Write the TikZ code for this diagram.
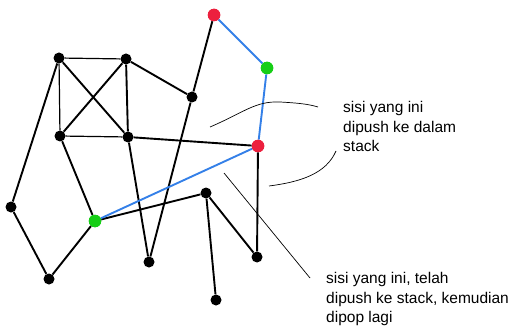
\documentclass[tikz,border=0pt]{standalone}
\usepackage{fontspec}
\setmainfont{Liberation Sans}

\definecolor{vred}{RGB}{236,32,62}
\definecolor{vgreen}{RGB}{22,206,22}
\definecolor{eblue}{RGB}{52,128,232}

\begin{document}
\begin{tikzpicture}[x=1pt,y=-1pt]
		\tikzstyle{every node}+=[inner sep=0pt]
		\tikzstyle{vtx}=[circle,fill=black,minimum size=11pt]
		\tikzstyle{redvtx}=[circle,fill=vred,minimum size=12.5pt]
		\tikzstyle{greenvtx}=[circle,fill=vgreen,minimum size=12.5pt]
		\tikzstyle{edge}=[black,line width=1.9pt]
		\tikzstyle{thinedge}=[black,line width=1.2pt]
		\tikzstyle{stackedge}=[eblue,line width=1.9pt]
		\tikzstyle{note}=[black,line width=0.7pt]
		\tikzstyle{notetext}=[anchor=north west,align=left,font=\fontsize{15.5}{19.5}\selectfont]
		\useasboundingbox (0,0) rectangle (508,331);
		% vertices
		\node[redvtx] (r1) at (214,15) {};
		\node[greenvtx] (g1) at (267,68) {};
		\node[vtx] (a) at (59,58) {};
		\node[vtx] (b) at (126,59) {};
		\node[vtx] (c) at (192,97) {};
		\node[vtx] (d) at (60,136) {};
		\node[vtx] (e) at (128,137) {};
		\node[redvtx] (r2) at (258,146) {};
		\node[vtx] (f) at (11,207) {};
		\node[greenvtx] (g2) at (95,221) {};
		\node[vtx] (h) at (206,193) {};
		\node[vtx] (i) at (49,279) {};
		\node[vtx] (j) at (149,262) {};
		\node[vtx] (k) at (257,257) {};
		\node[vtx] (l) at (216,300) {};
		% edges
		\draw[thinedge] (a) -- (b);
		\draw[thinedge] (a) -- (d);
		\draw[thinedge] (d) -- (e);
		\draw[edge] (a) -- (e);
		\draw[edge] (b) -- (d);
		\draw[edge] (b) -- (e);
		\draw[edge] (b) -- (c);
		\draw[edge] (c) -- (r1);
		\draw[edge] (c) -- (j);
		\draw[edge] (e) -- (r2);
		\draw[edge] (e) -- (j);
		\draw[edge] (d) -- (g2);
		\draw[edge] (a) -- (f);
		\draw[edge] (f) -- (i);
		\draw[edge] (i) -- (g2);
		\draw[edge] (g2) -- (h);
		\draw[edge] (h) -- (k);
		\draw[edge] (h) -- (l);
		\draw[edge] (r2) -- (k);
		\draw[stackedge] (r1) -- (g1);
		\draw[stackedge] (g1) -- (r2);
		\draw[stackedge] (r2) -- (g2);
		% redraw coloured vertices on top
		\node[redvtx] at (r1) {};
		\node[greenvtx] at (g1) {};
		\node[redvtx] at (r2) {};
		\node[greenvtx] at (g2) {};
		% notes
		\node[notetext] (pushnote) at (343,101.5) {sisi yang ini\\dipush ke dalam\\stack};
		\node[notetext] (popnote) at (326,272.5) {sisi yang ini, telah\\dipush ke stack, kemudian\\dipop lagi};
		\coordinate (p1) at (210,127);
		\coordinate (p2) at (318,107);
		\coordinate (q1) at (269,186);
		\coordinate (q2) at (336,151);
		\coordinate (s1) at (224,173);
		\coordinate (s2) at (310,278);
		\draw[note] (p1) .. controls (245,112) and (255,101) .. (280,102) .. controls (298,103) and (308,104) .. (p2);
		\draw[note] (q1) .. controls (300,182) and (326,174) .. (q2);
		\draw[note] (s1) -- (s2);
\end{tikzpicture}
\end{document}
